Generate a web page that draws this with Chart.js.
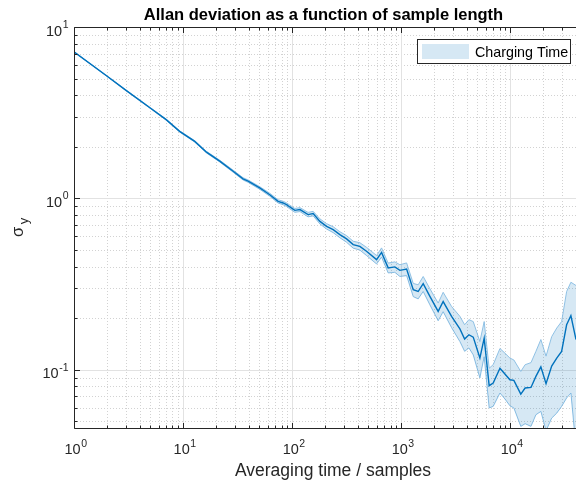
<!DOCTYPE html>
<html>
<head>
<meta charset="utf-8">
<script src="https://cdn.jsdelivr.net/npm/chart.js@4.4.1/dist/chart.umd.min.js"></script>
<style>
  html, body { margin: 0; padding: 0; background: #fff; overflow: hidden; }
  canvas { display: block; }
</style>
</head>
<body>
<canvas id="adev" width="576" height="483"></canvas>
<script>
/* Allan deviation plot */
var tau = [
  1, 2, 3, 5, 7, 9.3, 12.8, 16.4, 21.7, 28.8,
  35.5, 39.5, 50.5, 62.4, 74.4, 82.7, 88.9, 95.2, 106, 118,
  140, 156, 180, 207, 238, 274, 316, 363, 418, 481,
  595, 661, 760, 875, 973, 1122, 1290, 1432, 1592, 1834,
  2184, 2427, 2898, 3455, 3818, 4180, 4580, 5270, 5770, 6410,
  6980, 8050, 8940, 9930, 10800, 12500, 13700, 15500, 17200, 19100,
  21300, 24000, 26700, 29600, 32900, 36000, 40100
];
var adev = [
  7.16, 5.18, 4.27, 3.37, 2.88, 2.46, 2.15, 1.86, 1.65, 1.44,
  1.30, 1.26, 1.15, 1.05, 0.96, 0.94, 0.919, 0.891, 0.851, 0.860,
  0.804, 0.815, 0.734, 0.687, 0.657, 0.614, 0.580, 0.537, 0.525, 0.491,
  0.439, 0.484, 0.393, 0.398, 0.380, 0.387, 0.293, 0.286, 0.318, 0.268,
  0.219, 0.250, 0.205, 0.173, 0.151, 0.160, 0.155, 0.117, 0.153, 0.0807,
  0.0836, 0.102, 0.0944, 0.0874, 0.0866, 0.0721, 0.0782, 0.0788, 0.0914, 0.104,
  0.0828, 0.105, 0.117, 0.128, 0.183, 0.207, 0.150
];
var adevHigh = [
  7.18, 5.20, 4.29, 3.39, 2.90, 2.48, 2.17, 1.88, 1.67, 1.46,
  1.32, 1.28, 1.17, 1.071, 0.981, 0.962, 0.941, 0.913, 0.873, 0.883,
  0.828, 0.840, 0.759, 0.712, 0.683, 0.639, 0.606, 0.562, 0.551, 0.518,
  0.464, 0.514, 0.419, 0.426, 0.410, 0.420, 0.319, 0.313, 0.350, 0.297,
  0.245, 0.283, 0.234, 0.205, 0.183, 0.196, 0.191, 0.146, 0.191, 0.102,
  0.107, 0.133, 0.125, 0.117, 0.114, 0.0977, 0.107, 0.110, 0.128, 0.150,
  0.120, 0.156, 0.175, 0.191, 0.286, 0.324, 0.31
];
var adevLow = [
  7.14, 5.16, 4.25, 3.35, 2.86, 2.44, 2.13, 1.84, 1.63, 1.42,
  1.28, 1.24, 1.13, 1.029, 0.939, 0.918, 0.897, 0.869, 0.829, 0.837,
  0.780, 0.790, 0.709, 0.662, 0.631, 0.589, 0.554, 0.512, 0.499, 0.464,
  0.414, 0.454, 0.367, 0.370, 0.350, 0.354, 0.267, 0.259, 0.286, 0.239,
  0.193, 0.218, 0.176, 0.146, 0.128, 0.134, 0.122, 0.0895, 0.119, 0.0598,
  0.0611, 0.0731, 0.0675, 0.0616, 0.0598, 0.0467, 0.0484, 0.0467, 0.0546, 0.0571,
  0.044, 0.0522, 0.0558, 0.0611, 0.0684, 0.0731, 0.035
];
var xTickExp = [0, 1, 2, 3, 4];
var yTickExp = [-1, 0, 1];
var minorMult = [2, 3, 4, 5, 6, 7, 8, 9];
var titleText = 'Allan deviation as a function of sample length';
var xLabel = 'Averaging time / samples';
var yLabelMain = 'σ', yLabelSub = 'y';
var legendLabel = 'Charging Time';

var AX = '#262626';
var FONT = "'Liberation Sans', Arial, Helvetica, sans-serif";
var LINE = '#0072BD';
var BAND = 'rgba(0,114,189,0.16)';
var BAND_EDGE = '#84bbe2';

function pts(ys) {
  return tau.map(function (t, i) { return { x: t, y: ys[i] }; });
}

function minorVals(scale) {
  var out = [];
  var e0 = Math.floor(Math.log10(scale.min)), e1 = Math.ceil(Math.log10(scale.max));
  for (var e = e0; e <= e1; e++) {
    minorMult.forEach(function (k) {
      var v = k * Math.pow(10, e);
      if (v > scale.min && v < scale.max) out.push(v);
    });
  }
  return out;
}

/* "10" with a raised exponent; align is 'center' or 'right' */
function powLabel(ctx, x, y, exp, align) {
  var base = '10', sup = String(exp);
  ctx.font = '14.5px ' + FONT;
  var wb = ctx.measureText(base).width;
  ctx.font = '10.5px ' + FONT;
  var we = ctx.measureText(sup).width;
  var x0 = align === 'right' ? x - wb - we : x - (wb + we) / 2;
  ctx.textAlign = 'left';
  ctx.textBaseline = 'alphabetic';
  ctx.font = '14.5px ' + FONT;
  ctx.fillText(base, x0, y);
  ctx.font = '10.5px ' + FONT;
  ctx.fillText(sup, x0 + wb + 0.5, y - 7.5);
}

var axesDeco = {
  id: 'axesDeco',
  beforeDatasetsDraw: function (chart) {
    var ctx = chart.ctx, a = chart.chartArea, xs = chart.scales.x, ys = chart.scales.y;
    ctx.save();
    ctx.lineWidth = 1;
    function vline(v) {
      var p = Math.round(xs.getPixelForValue(v)) + 0.5;
      ctx.beginPath(); ctx.moveTo(p, a.top); ctx.lineTo(p, a.bottom); ctx.stroke();
    }
    function hline(v) {
      var p = Math.round(ys.getPixelForValue(v)) + 0.5;
      ctx.beginPath(); ctx.moveTo(a.left, p); ctx.lineTo(a.right, p); ctx.stroke();
    }
    // minor grid, dotted
    ctx.strokeStyle = '#d2d2d2';
    ctx.setLineDash([1, 2]);
    minorVals(xs).forEach(vline);
    minorVals(ys).forEach(hline);
    // major grid, solid
    ctx.setLineDash([]);
    ctx.strokeStyle = '#e2e2e2';
    xTickExp.forEach(function (e) { vline(Math.pow(10, e)); });
    yTickExp.forEach(function (e) { hline(Math.pow(10, e)); });
    ctx.restore();
  },
  afterDatasetsDraw: function (chart) {
    var ctx = chart.ctx, a = chart.chartArea, xs = chart.scales.x, ys = chart.scales.y;
    var L = a.left + 0.5, B = a.bottom + 0.5, T = a.top + 0.5;
    ctx.save();
    ctx.strokeStyle = AX;
    ctx.lineWidth = 1;
    // box (right side lies outside the picture)
    ctx.beginPath();
    ctx.moveTo(a.right, T); ctx.lineTo(L, T); ctx.lineTo(L, B); ctx.lineTo(a.right, B);
    ctx.stroke();
    // inward ticks
    function xt(v, len) {
      var p = Math.round(xs.getPixelForValue(v)) + 0.5;
      ctx.beginPath();
      ctx.moveTo(p, B); ctx.lineTo(p, B - len);
      ctx.moveTo(p, T); ctx.lineTo(p, T + len);
      ctx.stroke();
    }
    function yt(v, len) {
      var p = Math.round(ys.getPixelForValue(v)) + 0.5;
      ctx.beginPath(); ctx.moveTo(L, p); ctx.lineTo(L + len, p); ctx.stroke();
    }
    minorVals(xs).forEach(function (v) { xt(v, 3); });
    minorVals(ys).forEach(function (v) { yt(v, 3); });
    xTickExp.forEach(function (e) { xt(Math.pow(10, e), 5.5); });
    yTickExp.forEach(function (e) { yt(Math.pow(10, e), 5.5); });

    // tick labels
    ctx.fillStyle = AX;
    xTickExp.forEach(function (e) {
      powLabel(ctx, xs.getPixelForValue(Math.pow(10, e)) + 1.5, a.bottom + 26, e, 'center');
    });
    yTickExp.forEach(function (e) {
      powLabel(ctx, a.left - 6, ys.getPixelForValue(Math.pow(10, e)) + 8.5, e, 'right');
    });

    // axis labels
    ctx.font = '17.5px ' + FONT;
    ctx.textAlign = 'center';
    ctx.textBaseline = 'alphabetic';
    ctx.fillText(xLabel, 333, 476);

    ctx.save();
    ctx.translate(23, 237);
    ctx.rotate(-Math.PI / 2);
    ctx.textAlign = 'left';
    ctx.font = '16.5px ' + FONT;
    ctx.fillText(yLabelMain, 0, 0);
    var ws = ctx.measureText(yLabelMain).width;
    ctx.font = '13px ' + FONT;
    ctx.fillText(yLabelSub, ws + 2.5, 5);
    ctx.restore();

    // title
    ctx.fillStyle = '#000';
    ctx.font = 'bold 16.5px ' + FONT;
    ctx.textAlign = 'center';
    ctx.fillText(titleText, 323.5, 20);

    // legend
    ctx.fillStyle = '#fff';
    ctx.fillRect(417.5, 39.5, 153, 24);
    ctx.strokeStyle = AX;
    ctx.strokeRect(417.5, 39.5, 153, 24);
    ctx.fillStyle = BAND;
    ctx.fillRect(422, 44, 47, 15);
    ctx.fillStyle = '#000';
    ctx.font = '14.3px ' + FONT;
    ctx.textAlign = 'left';
    ctx.fillText(legendLabel, 475, 56.5);
    ctx.restore();
  }
};

new Chart(document.getElementById('adev'), {
  type: 'line',
  data: {
    datasets: [
      { data: pts(adev), borderColor: LINE, borderWidth: 1.4, pointRadius: 0, fill: false, order: 0 },
      { data: pts(adevHigh), borderColor: BAND_EDGE, borderWidth: 0.9, pointRadius: 0,
        backgroundColor: BAND, fill: { target: 2 }, order: 1 },
      { data: pts(adevLow), borderColor: BAND_EDGE, borderWidth: 0.9, pointRadius: 0, fill: false, order: 2 }
    ]
  },
  options: {
    responsive: false,
    animation: false,
    layout: { padding: { left: 74, right: 0, top: 27, bottom: 55 } },
    scales: {
      x: { type: 'logarithmic', min: 1, max: 40100, display: false },
      y: { type: 'logarithmic', min: 0.0457, max: 10, display: false }
    },
    plugins: { legend: { display: false }, tooltip: { enabled: false }, title: { display: false } }
  },
  plugins: [axesDeco]
});
</script>
</body>
</html>
